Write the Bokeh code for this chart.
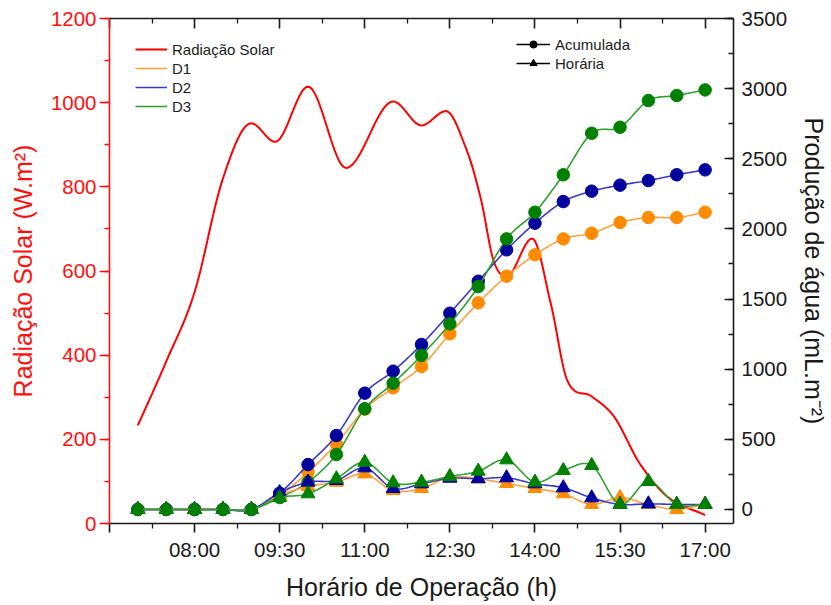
import numpy as np
from bokeh.plotting import figure
from bokeh.models import (Range1d, LinearAxis, FixedTicker, SingleIntervalTicker,
                          Legend, LegendItem, CustomLabelingPolicy)
from bokeh.embed import file_html
from bokeh.resources import INLINE

FONT = "Liberation Sans"

# ---------------- data ----------------
hours = [7.0, 7.5, 8.0, 8.5, 9.0, 9.5, 10.0, 10.5, 11.0, 11.5, 12.0,
         12.5, 13.0, 13.5, 14.0, 14.5, 15.0, 15.5, 16.0, 16.5, 17.0]

d1_acum = [0, 0, 0, 0, 0, 100, 266, 468, 715, 867, 1019, 1252, 1473, 1663,
           1815, 1929, 1969, 2046, 2081, 2081, 2119]
d2_acum = [0, 0, 0, 0, 0, 116, 320, 527, 829, 986, 1176, 1399, 1627, 1851,
           2041, 2195, 2269, 2312, 2345, 2386, 2421]
d3_acum = [0, 0, 0, 0, 0, 85, 195, 392, 718, 900, 1098, 1323, 1589, 1929,
           2119, 2386, 2682, 2725, 2915, 2951, 2991]

d1_hor = [0, 0, 0, 0, 0, 100, 164, 195, 254, 135, 150, 230, 219, 185,
          150, 112, 36, 85, 36, 0, 38]
d2_hor = [0, 0, 0, 0, 0, 120, 195, 207, 297, 150, 183, 223, 219, 226,
          183, 155, 83, 36, 40, 36, 36]
d3_hor = [0, 0, 0, 0, 0, 85, 112, 219, 337, 190, 195, 235, 273, 354,
          195, 278, 314, 36, 200, 36, 36]

rad_hours = [7.0, 7.5, 8.0, 8.5, 9.0, 9.42, 10.0, 10.67, 11.5, 12.0, 12.43,
             12.8, 13.05, 13.27, 13.5, 13.95, 14.28, 14.57, 15.0, 15.4,
             15.85, 16.35, 17.0]
rad_values = [233, 385, 550, 820, 951, 907, 1038, 845, 1003, 946, 980,
              886, 769, 625, 587, 677, 522, 340, 302, 253, 142, 62, 20]

tick_hours = [8.0, 9.5, 11.0, 12.5, 14.0, 15.5, 17.0]
tick_labels = ["08:00", "09:30", "11:00", "12:30", "14:00", "15:30", "17:00"]

series_names = ["D1", "D2", "D3"]
marker_colors = ["#FF8C00", "#00009C", "#008000"]
line_colors = ["#FFA040", "#3B3BC0", "#2F9F2F"]


# ---------------- helpers ----------------
def smooth(xs, ys, n=16, flat_extrema=False):
    xs = np.asarray(xs, float)
    ys = np.asarray(ys, float)
    m = np.zeros_like(ys)
    m[1:-1] = (ys[2:] - ys[:-2]) / (xs[2:] - xs[:-2])
    m[0] = (ys[1] - ys[0]) / (xs[1] - xs[0])
    m[-1] = (ys[-1] - ys[-2]) / (xs[-1] - xs[-2])
    if flat_extrema:
        for i in range(1, len(ys) - 1):
            if (ys[i] - ys[i - 1]) * (ys[i + 1] - ys[i]) <= 0:
                m[i] = 0.0
    ox, oy = [], []
    for i in range(len(xs) - 1):
        h = xs[i + 1] - xs[i]
        t = np.linspace(0, 1, n, endpoint=(i == len(xs) - 2))
        h00 = 2 * t**3 - 3 * t**2 + 1
        h10 = t**3 - 2 * t**2 + t
        h01 = -2 * t**3 + 3 * t**2
        h11 = t**3 - t**2
        oy.extend(h00 * ys[i] + h10 * h * m[i] + h01 * ys[i + 1] + h11 * h * m[i + 1])
        ox.extend(xs[i] + t * h)
    return ox, oy


# ---------------- figure ----------------
p = figure(width=831, height=605, x_range=Range1d(6.5, 17.5),
           y_range=Range1d(0, 1200), output_backend="svg",
           toolbar_location=None, min_border_left=109, min_border_right=98,
           min_border_top=18, min_border_bottom=82)
p.extra_y_ranges = {"agua": Range1d(-100, 3500)}
p.grid.visible = False
p.outline_line_color = None
p.background_fill_color = "white"
p.border_fill_color = "white"

major_x = [6.5] + tick_hours
minor_x = [h + 0.75 for h in major_x[:-1]]

xa = p.xaxis[0]
xa.ticker = FixedTicker(ticks=major_x, minor_ticks=minor_x)
xa.major_label_overrides = {h: lab for h, lab in zip(tick_hours, tick_labels)}
xa.major_label_policy = CustomLabelingPolicy(code="""
    try { indices.unset(0) } catch (e) { indices.set(0, false) }
    return indices
""")
xa.axis_label = "Horário de Operação (h)"
ya = p.yaxis[0]
ya.ticker = SingleIntervalTicker(interval=200, num_minor_ticks=2)
ya.axis_label = "Radiação Solar (W.m²)"

top = LinearAxis(ticker=FixedTicker(ticks=major_x, minor_ticks=minor_x))
right = LinearAxis(y_range_name="agua",
                   ticker=SingleIntervalTicker(interval=500, num_minor_ticks=2),
                   axis_label="Produção de água (mL.m⁻²)")
p.add_layout(top, "above")
p.add_layout(right, "right")

for ax in [xa, ya, top, right]:
    ax.axis_line_width = 1.6
    ax.major_tick_line_width = 1.6
    ax.minor_tick_line_width = 1.3
    ax.major_label_text_font = FONT
    ax.major_label_text_font_size = "20.5px"
    ax.major_label_text_color = "#1a1a1a"
    ax.axis_label_text_font = FONT
    ax.axis_label_text_font_size = "25px"
    ax.axis_label_text_font_style = "normal"
    ax.axis_label_text_color = "#1a1a1a"
    ax.axis_line_color = "#1a1a1a"
    ax.major_tick_line_color = "#1a1a1a"
    ax.minor_tick_line_color = "#1a1a1a"

xa.major_tick_out = 9
xa.major_tick_in = 0
xa.minor_tick_out = 5
xa.minor_tick_in = 0
xa.major_label_standoff = 5
xa.axis_label_standoff = 9

ya.major_tick_out = 10
ya.major_tick_in = 0
ya.minor_tick_out = 5
ya.minor_tick_in = 0
ya.major_label_standoff = 3
ya.axis_label_standoff = 11
for attr in ["axis_line_color", "major_tick_line_color", "minor_tick_line_color",
             "major_label_text_color", "axis_label_text_color"]:
    setattr(ya, attr, "#FF1010")

top.major_tick_in = 10
top.major_tick_out = 0
top.minor_tick_in = 5
top.minor_tick_out = 0
top.major_label_text_font_size = "0px"
top.major_label_text_color = None
top.major_label_standoff = 0

right.major_tick_in = 9
right.major_tick_out = 0
right.minor_tick_in = 5
right.minor_tick_out = 0
right.major_label_standoff = 8
right.axis_label_standoff = 10

# ---------------- glyphs ----------------
rx, ry = smooth(rad_hours, rad_values, n=20, flat_extrema=True)
red_r = p.line(rx, ry, line_color="#FF0000", line_width=2)

acum = [d1_acum, d2_acum, d3_acum]
hor = [d1_hor, d2_hor, d3_hor]
line_rs = []
for vals, mc, lc in zip(acum, marker_colors, line_colors):
    sx, sy = smooth(hours, vals)
    lr = p.line(sx, sy, line_color=lc, line_width=1.6, y_range_name="agua")
    line_rs.append(lr)
    p.scatter(hours, vals, marker="circle", size=12.5, fill_color=mc,
              line_color=mc, y_range_name="agua")
for vals, mc, lc in zip(hor, marker_colors, line_colors):
    sx, sy = smooth(hours, vals)
    p.line(sx, sy, line_color=lc, line_width=1.6, y_range_name="agua")
    p.scatter(hours, vals, marker="triangle", size=14, fill_color=mc,
              line_color=mc, y_range_name="agua")

# legend-only renderers (one point placed outside the visible range)
dl = p.line(x=[0, 1], y=[-5000, -5000], line_color="black", line_width=1.5)
dc = p.scatter(x=[0], y=[-5000], marker="circle", size=12, color="black")
dt = p.scatter(x=[0], y=[-5000], marker="triangle", size=14, color="black")

leg1 = Legend(items=[LegendItem(label="Radiação Solar", renderers=[red_r])] +
              [LegendItem(label=n, renderers=[r]) for n, r in zip(series_names, line_rs)],
              location=(26, 408))
leg2 = Legend(items=[LegendItem(label="Acumulada", renderers=[dl, dc]),
                     LegendItem(label="Horária", renderers=[dl, dt])],
              location=(407, 451))
for lg, gw in [(leg1, 32), (leg2, 34)]:
    lg.border_line_color = None
    lg.background_fill_alpha = 0
    lg.label_text_font = FONT
    lg.label_text_font_size = "15px"
    lg.label_text_color = "#222222"
    lg.glyph_width = gw
    lg.glyph_height = 18
    lg.label_height = 18
    lg.label_standoff = 5
    lg.spacing = 1
    lg.padding = 0
    lg.margin = 0
    p.add_layout(lg, "center")

open("out.html", "w").write(file_html(p, INLINE))
